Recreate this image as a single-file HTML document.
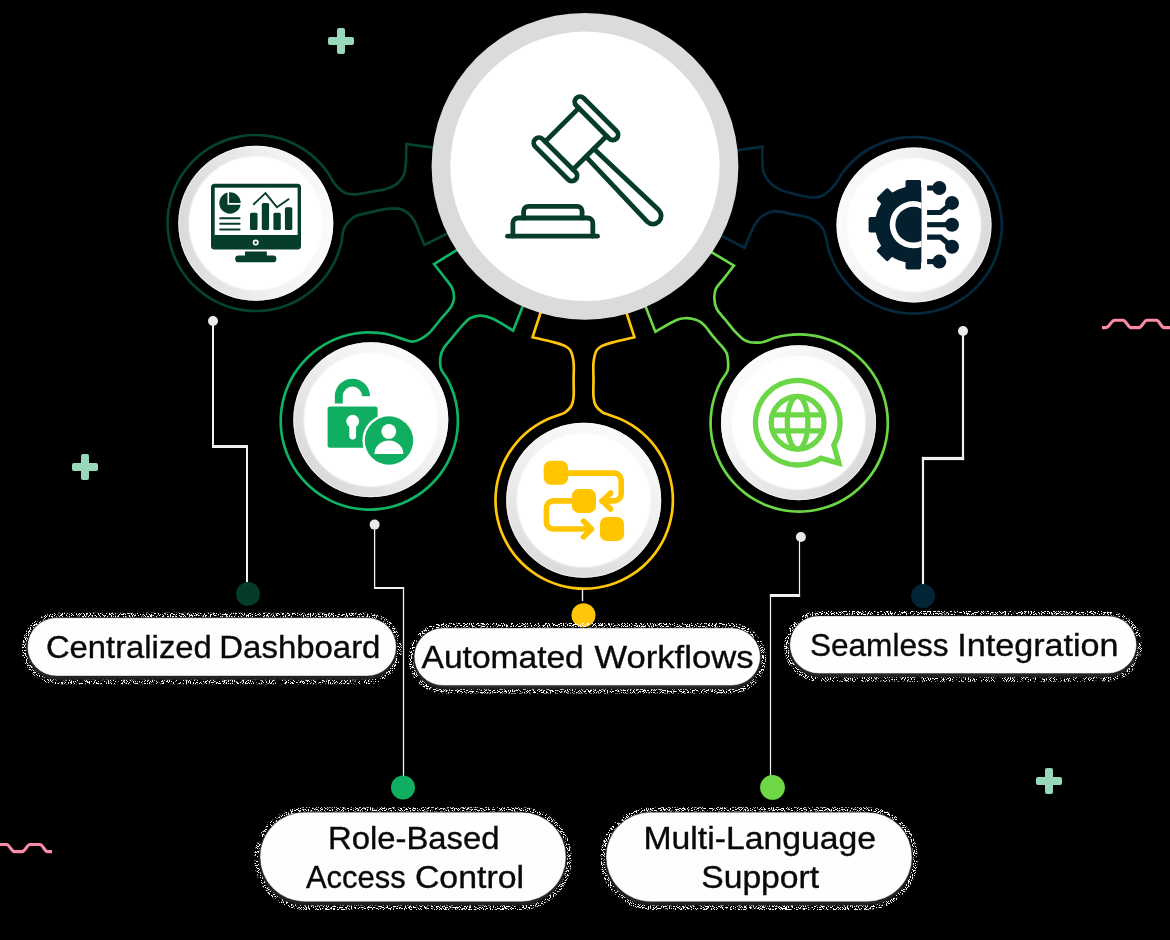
<!DOCTYPE html>
<html><head><meta charset="utf-8"><title>Features</title>
<style>html,body{margin:0;padding:0;background:#000;}body{width:1170px;height:940px;overflow:hidden;font-family:"Liberation Sans",sans-serif;}svg{display:block}</style>
</head><body>
<svg width="1170" height="940" viewBox="0 0 1170 940">
<defs>
<linearGradient id="g_dash" x1="0" y1="0.5" x2="1" y2="0.5"><stop offset="0" stop-color="#dadada"/><stop offset="0.55" stop-color="#efefef"/><stop offset="1" stop-color="#fbfbfb"/></linearGradient>
<linearGradient id="g_role" x1="0.15" y1="0.85" x2="0.85" y2="0.15"><stop offset="0" stop-color="#dadada"/><stop offset="0.55" stop-color="#efefef"/><stop offset="1" stop-color="#fbfbfb"/></linearGradient>
<linearGradient id="g_work" x1="0.3" y1="1" x2="0.7" y2="0"><stop offset="0" stop-color="#dadada"/><stop offset="0.55" stop-color="#efefef"/><stop offset="1" stop-color="#fbfbfb"/></linearGradient>
<linearGradient id="g_multi" x1="0.85" y1="0.85" x2="0.15" y2="0.15"><stop offset="0" stop-color="#dadada"/><stop offset="0.55" stop-color="#efefef"/><stop offset="1" stop-color="#fbfbfb"/></linearGradient>
<linearGradient id="g_integ" x1="1" y1="0.6" x2="0" y2="0.4"><stop offset="0" stop-color="#dadada"/><stop offset="0.55" stop-color="#efefef"/><stop offset="1" stop-color="#fbfbfb"/></linearGradient>
<radialGradient id="inner"><stop offset="0" stop-color="#fff"/><stop offset="0.965" stop-color="#fff"/><stop offset="1" stop-color="#fff" stop-opacity="0"/></radialGradient>
<clipPath id="gearclip"><rect x="850" y="170" width="71.4" height="110"/></clipPath>
<filter id="sh" x="-5%" y="-30%" width="110%" height="160%"><feGaussianBlur stdDeviation="1.300"/></filter>
<filter id="nz" x="-5%" y="-30%" width="110%" height="160%" color-interpolation-filters="sRGB"><feTurbulence type="fractalNoise" baseFrequency="0.950" numOctaves="2" seed="7" result="t"/><feColorMatrix in="t" type="matrix" values="0 0 0 0 1  0 0 0 0 1  0 0 0 0 1  0 0 0 16 -8.600" result="n"/><feComposite in="n" in2="SourceGraphic" operator="in"/></filter>
</defs>
<rect width="1170" height="940" fill="#000"/>
<g fill="#98d9bc"><rect x="337" y="28" width="8" height="26" rx="2"/><rect x="328" y="37" width="26" height="8" rx="2"/></g>
<g fill="#98d9bc"><rect x="81" y="454" width="8" height="26" rx="2"/><rect x="72" y="463" width="26" height="8" rx="2"/></g>
<g fill="#98d9bc"><rect x="1045" y="768" width="8" height="26" rx="2"/><rect x="1036" y="777" width="26" height="8" rx="2"/></g>
<path d="M1102 327.6L1106 327.6C1109.44 327.6 1111.16 320.2 1114.6 320.2L1123 320.2C1126.2 320.2 1127.8 327.6 1131 327.6L1139 327.6C1142.2 327.6 1143.8 320.2 1147 320.2L1156.5 320.2C1159.5 320.2 1161 327.6 1164 327.6L1172 327.6" stroke="#f98ba6" stroke-width="3.100" fill="none"/>
<path d="M-2 844.5L6.5 844.5C9.7 844.5 11.3 851.6 14.5 851.6L22 851.6C25.2 851.6 26.8 844.5 30 844.5L40 844.5C43 844.5 44.5 851.6 47.5 851.6L52 851.6" stroke="#f98ba6" stroke-width="3.100" fill="none"/>
<path d="M438.95 148.4L406.3 144C406.28 145.83 406.27 151.87 406.2 155C406.13 158.13 406.28 159.52 405.9 162.8C405.52 166.08 405.35 171.23 403.9 174.7C402.45 178.17 400.05 181.25 397.2 183.6C394.35 185.95 390.77 187.5 386.8 188.8C382.83 190.1 378.37 190.48 373.4 191.4C368.43 192.32 361.35 193.92 357 194.3C352.65 194.68 349.97 194.37 347.3 193.7C344.63 193.03 343.22 192.08 341 190.3C338.78 188.52 336.23 186.01 334.01 183.05C331.79 180.09 330.03 175.87 327.69 172.53C325.34 169.18 322.74 165.97 319.96 162.98C317.17 160 314.15 157.18 310.98 154.61C307.81 152.04 304.42 149.67 300.92 147.57C297.42 145.47 293.74 143.59 289.98 142C286.23 140.4 282.32 139.06 278.38 138C274.43 136.94 270.38 136.15 266.32 135.66C262.27 135.16 258.15 134.94 254.06 135.01C249.98 135.08 245.87 135.44 241.83 136.08C237.8 136.72 233.78 137.65 229.87 138.85C225.97 140.04 222.11 141.52 218.41 143.24C214.71 144.97 211.1 146.97 207.67 149.2C204.25 151.42 200.95 153.91 197.87 156.59C194.79 159.26 191.86 162.19 189.19 165.27C186.51 168.35 184.02 171.65 181.8 175.07C179.57 178.5 177.57 182.11 175.84 185.81C174.12 189.51 172.64 193.37 171.45 197.27C170.25 201.18 169.32 205.2 168.68 209.23C168.04 213.27 167.68 217.38 167.61 221.46C167.54 225.55 167.76 229.67 168.26 233.72C168.75 237.78 169.54 241.83 170.6 245.78C171.66 249.72 173 253.63 174.6 257.38C176.19 261.14 178.07 264.82 180.17 268.32C182.27 271.82 184.64 275.21 187.21 278.38C189.78 281.55 192.6 284.57 195.58 287.36C198.57 290.14 201.78 292.74 205.13 295.09C208.47 297.43 212.01 299.56 215.65 301.41C219.29 303.26 223.09 304.88 226.95 306.21C230.81 307.53 234.8 308.6 238.81 309.38C242.82 310.16 246.92 310.67 250.99 310.88C255.07 311.09 259.2 311.02 263.27 310.67C267.34 310.31 271.42 309.66 275.4 308.74C279.37 307.83 283.33 306.62 287.14 305.16C290.95 303.69 294.69 301.95 298.26 299.97C301.83 297.99 305.3 295.74 308.56 293.28C311.82 290.82 314.94 288.11 317.83 285.23C320.71 282.34 323.42 279.22 325.88 275.96C328.34 272.7 330.59 269.23 332.57 265.66C334.55 262.09 336.29 258.35 337.76 254.54C339.22 250.73 340.43 246.77 341.34 242.8C342.26 238.82 342.61 233.47 343.27 230.67C343.92 227.87 344.49 227.39 345.3 226C346.11 224.61 346.98 223.55 348.1 222.3C349.22 221.05 350.52 219.62 352 218.5C353.48 217.38 353.43 216.75 357 215.6C360.57 214.45 368.43 212.72 373.4 211.6C378.37 210.48 382.33 209.35 386.8 208.9C391.27 208.45 396.48 208.03 400.2 208.9C403.92 209.77 406.62 211.87 409.1 214.1C411.58 216.33 413.33 219.07 415.1 222.3C416.87 225.53 418.15 229.72 419.7 233.5C421.25 237.28 423.62 243.08 424.4 245L452.87 230.83" fill="none" stroke="#05432f" stroke-width="2.700" stroke-linejoin="miter"/>
<path d="M731.06 151.04L762.6 146.6C762.55 148.5 762.17 153.82 762.3 158C762.43 162.18 762.22 167.68 763.4 171.7C764.58 175.72 766.67 179.12 769.4 182.1C772.13 185.08 775.58 187.62 779.8 189.6C784.02 191.58 789.73 192.72 794.7 194C799.67 195.28 805.63 196.8 809.6 197.3C813.57 197.8 816.1 197.42 818.5 197C820.9 196.58 822.3 195.8 824 194.8C825.7 193.8 826.78 192.83 828.7 191C830.62 189.17 833.29 186.8 835.54 183.85C837.78 180.89 839.71 176.62 842.15 173.27C844.6 169.92 847.31 166.71 850.2 163.74C853.09 160.77 856.22 157.97 859.5 155.43C862.78 152.9 866.28 150.57 869.88 148.52C873.49 146.48 877.28 144.66 881.14 143.14C885 141.62 889 140.36 893.04 139.4C897.07 138.44 901.21 137.76 905.34 137.38C909.47 136.99 913.67 136.9 917.81 137.11C921.96 137.31 926.12 137.81 930.2 138.59C934.27 139.38 938.33 140.46 942.25 141.81C946.17 143.16 950.03 144.8 953.72 146.69C957.42 148.58 961.01 150.76 964.4 153.15C967.79 155.54 971.04 158.19 974.06 161.04C977.08 163.88 979.92 166.97 982.51 170.21C985.1 173.45 987.48 176.91 989.58 180.48C991.69 184.06 993.56 187.82 995.14 191.65C996.72 195.49 998.04 199.47 999.06 203.49C1000.09 207.51 1000.84 211.64 1001.28 215.76C1001.73 219.89 1001.89 224.08 1001.75 228.23C1001.61 232.37 1001.18 236.55 1000.46 240.63C999.74 244.72 998.72 248.79 997.43 252.73C996.14 256.67 994.56 260.56 992.73 264.28C990.9 268.01 988.78 271.63 986.44 275.06C984.11 278.49 981.5 281.78 978.71 284.84C975.91 287.9 972.87 290.8 969.67 293.43C966.47 296.07 963.04 298.51 959.51 300.67C955.97 302.83 952.24 304.76 948.43 306.4C944.62 308.04 940.65 309.42 936.65 310.51C932.65 311.6 928.53 312.41 924.41 312.92C920.3 313.44 916.11 313.66 911.96 313.59C907.81 313.51 903.63 313.14 899.53 312.49C895.44 311.83 891.35 310.88 887.39 309.65C883.43 308.42 879.51 306.9 875.76 305.13C872.01 303.36 868.35 301.3 864.89 299.02C861.43 296.73 858.1 294.18 854.99 291.43C851.88 288.68 848.94 285.69 846.26 282.53C843.57 279.37 841.08 275.99 838.86 272.48C836.65 268.98 834.66 265.28 832.96 261.5C831.26 257.71 829.81 253.77 828.66 249.79C827.51 245.8 826.9 240.8 826.06 237.59C825.22 234.37 824.73 232.71 823.6 230.5C822.47 228.29 821.63 226.4 819.3 224.3C816.97 222.2 814.2 219.6 809.6 217.9C805 216.2 797.42 215.22 791.7 214.1C785.98 212.98 780.27 210.82 775.3 211.2C770.33 211.58 765.37 214.05 761.9 216.4C758.43 218.75 756.57 222.03 754.5 225.3C752.43 228.57 751.15 232.25 749.5 236C747.85 239.75 745.42 245.83 744.6 247.8L716.17 233.15" fill="none" stroke="#04293d" stroke-width="2.700" stroke-linejoin="miter"/>
<path d="M462.13 246.88L434 264C435.78 266.28 441.65 273.62 444.7 277.7C447.75 281.78 450.77 284.97 452.3 288.5C453.83 292.03 454.1 295.87 453.9 298.9C453.7 301.93 453.42 303.18 451.1 306.7C448.78 310.22 443.7 315.57 440 320C436.3 324.43 432.23 330.07 428.9 333.3C425.57 336.53 422.78 338 420 339.4C417.22 340.8 415.12 341.79 412.2 341.7C409.28 341.61 406.07 339.96 402.49 338.85C398.91 337.74 394.72 336.03 390.73 335.03C386.75 334.04 382.65 333.31 378.56 332.89C374.47 332.46 370.32 332.31 366.21 332.45C362.1 332.6 357.96 333.03 353.91 333.75C349.87 334.46 345.83 335.47 341.92 336.74C338.01 338.01 334.15 339.57 330.46 341.37C326.77 343.17 323.16 345.25 319.76 347.55C316.35 349.85 313.07 352.41 310.02 355.16C306.96 357.91 304.07 360.9 301.43 364.05C298.79 367.2 296.34 370.56 294.16 374.05C291.98 377.53 290.03 381.21 288.36 384.96C286.69 388.72 285.27 392.63 284.13 396.58C283 400.53 282.13 404.6 281.56 408.67C280.99 412.74 280.7 416.89 280.7 421C280.7 425.11 280.99 429.26 281.56 433.33C282.13 437.4 283 441.47 284.13 445.42C285.27 449.37 286.69 453.28 288.36 457.04C290.03 460.79 291.98 464.47 294.16 467.95C296.34 471.44 298.79 474.8 301.43 477.95C304.07 481.1 306.96 484.09 310.02 486.84C313.07 489.59 316.35 492.15 319.76 494.45C323.16 496.75 326.77 498.83 330.46 500.63C334.15 502.43 338.01 503.99 341.92 505.26C345.83 506.53 349.87 507.54 353.91 508.25C357.96 508.97 362.1 509.4 366.21 509.55C370.32 509.69 374.47 509.54 378.56 509.11C382.65 508.69 386.75 507.96 390.73 506.97C394.72 505.97 398.68 504.69 402.49 503.15C406.3 501.61 410.04 499.78 413.6 497.73C417.16 495.67 420.61 493.35 423.85 490.82C427.09 488.29 430.18 485.5 433.03 482.55C435.89 479.59 438.56 476.4 440.98 473.08C443.39 469.75 445.6 466.22 447.53 462.6C449.46 458.97 451.15 455.17 452.56 451.3C453.96 447.44 455.11 443.44 455.96 439.42C456.82 435.4 457.4 431.28 457.68 427.18C457.97 423.08 457.97 418.92 457.68 414.82C457.4 410.72 456.82 406.6 455.96 402.58C455.11 398.56 453.96 394.56 452.56 390.7C451.15 386.83 449.46 383.03 447.53 379.4C445.6 375.78 442.17 372.57 440.98 368.92C439.79 365.27 440.01 360.84 440.4 357.5C440.79 354.16 441.52 352 443.3 348.9C445.08 345.8 447.95 342.78 451.1 338.9C454.25 335.02 459.05 329.03 462.2 325.6C465.35 322.17 466.97 319.97 470 318.3C473.03 316.63 476.68 315.55 480.4 315.6C484.12 315.65 486.83 316.12 492.3 318.6C497.77 321.08 509.72 328.52 513.2 330.5L525 300.62" fill="none" stroke="#10b263" stroke-width="2.700" stroke-linejoin="miter"/>
<path d="M706.06 248.9L733.9 265.7C732.05 268.07 725.82 276.02 722.8 279.9C719.78 283.78 717.2 285.83 715.8 289C714.4 292.17 714.25 295.58 714.4 298.9C714.55 302.22 714.83 305.38 716.7 308.9C718.57 312.42 722.45 316.12 725.6 320C728.75 323.88 732.65 328.97 735.6 332.2C738.55 335.43 740.9 337.73 743.3 339.4C745.7 341.07 747.72 341.67 750 342.2C752.28 342.73 754.81 342.62 757 342.6C759.19 342.58 760.19 342.86 763.16 342.06C766.14 341.26 770.88 338.95 774.85 337.81C778.83 336.68 782.92 335.81 787.02 335.24C791.11 334.67 795.29 334.39 799.43 334.4C803.56 334.41 807.74 334.72 811.83 335.3C815.92 335.89 820.01 336.78 823.98 337.94C827.95 339.09 831.88 340.54 835.65 342.25C839.42 343.95 843.1 345.93 846.6 348.14C850.09 350.36 853.46 352.84 856.61 355.52C859.76 358.2 862.75 361.13 865.49 364.22C868.24 367.32 870.79 370.63 873.07 374.08C875.35 377.53 877.42 381.17 879.19 384.91C880.97 388.64 882.5 392.54 883.74 396.48C884.98 400.43 885.95 404.5 886.62 408.58C887.29 412.66 887.68 416.83 887.78 420.96C887.87 425.1 887.67 429.28 887.19 433.39C886.7 437.49 885.92 441.61 884.87 445.6C883.81 449.6 882.46 453.56 880.86 457.38C879.26 461.19 877.36 464.92 875.24 468.47C873.12 472.02 870.72 475.45 868.13 478.67C865.53 481.89 862.68 484.95 859.65 487.77C856.63 490.59 853.38 493.23 849.99 495.6C846.6 497.97 843.01 500.12 839.32 501.99C835.64 503.87 831.78 505.5 827.87 506.83C823.95 508.17 819.91 509.25 815.85 510.02C811.78 510.8 807.63 511.3 803.5 511.5C799.37 511.7 795.18 511.61 791.06 511.23C786.95 510.85 782.82 510.17 778.79 509.22C774.77 508.27 770.77 507.02 766.92 505.51C763.07 504 759.29 502.21 755.69 500.18C752.08 498.15 748.59 495.84 745.31 493.33C742.03 490.81 738.89 488.04 735.99 485.09C733.1 482.14 730.38 478.95 727.92 475.63C725.47 472.3 723.22 468.76 721.26 465.13C719.29 461.49 717.56 457.68 716.13 453.8C714.69 449.92 713.51 445.9 712.63 441.86C711.75 437.82 711.15 433.68 710.84 429.56C710.54 425.43 710.52 421.25 710.8 417.12C711.07 412.99 711.64 408.85 712.49 404.8C713.34 400.75 714.48 396.73 715.89 392.84C717.3 388.95 719 385.12 720.94 381.47C722.87 377.82 726.34 374.25 727.52 370.92C728.7 367.59 728.14 364.44 728 361.5C727.86 358.56 727.67 355.77 726.7 353.3C725.73 350.83 724.43 349.47 722.2 346.7C719.97 343.93 716.07 340.03 713.3 336.7C710.53 333.37 707.82 329.2 705.6 326.7C703.38 324.2 702.1 322.98 700 321.7C697.9 320.42 695.42 319.58 693 319C690.58 318.42 688.23 318.02 685.5 318.2C682.77 318.38 681.63 317.85 676.6 320.1C671.57 322.35 658.85 329.77 655.3 331.7L643.65 301.4" fill="none" stroke="#6cd746" stroke-width="2.700" stroke-linejoin="miter"/>
<path d="M542.45 306.79L532.6 337.2C536.2 338.07 548.8 340.93 554.2 342.4C559.6 343.87 562.28 344.63 565 346C567.72 347.37 569.07 347.83 570.5 350.6C571.93 353.37 573.08 357.7 573.6 362.6C574.12 367.5 573.6 374.3 573.6 380C573.6 385.7 573.98 392.47 573.6 396.8C573.22 401.13 572.7 403.42 571.3 406C569.9 408.58 567.37 410.77 565.2 412.3C563.03 413.83 561.39 413.94 558.27 415.18C555.15 416.41 550.29 417.93 546.49 419.72C542.69 421.5 538.98 423.58 535.47 425.89C531.96 428.19 528.58 430.77 525.44 433.55C522.3 436.34 519.32 439.37 516.6 442.57C513.88 445.77 511.37 449.2 509.13 452.75C506.9 456.3 504.89 460.05 503.18 463.89C501.48 467.72 500.03 471.72 498.88 475.76C497.73 479.79 496.86 483.96 496.3 488.12C495.74 492.28 495.47 496.52 495.5 500.72C495.54 504.91 495.87 509.15 496.5 513.3C497.13 517.45 498.07 521.6 499.28 525.62C500.49 529.64 502.01 533.61 503.78 537.42C505.55 541.22 507.61 544.94 509.9 548.46C512.2 551.97 514.77 555.36 517.54 558.51C520.31 561.67 523.33 564.66 526.52 567.39C529.71 570.11 533.13 572.64 536.67 574.89C540.22 577.14 543.96 579.16 547.79 580.88C551.61 582.6 555.61 584.07 559.64 585.23C563.67 586.39 567.83 587.28 571.99 587.86C576.15 588.43 580.39 588.72 584.59 588.7C588.78 588.68 593.02 588.36 597.18 587.75C601.33 587.13 605.48 586.21 609.5 585.01C613.53 583.82 617.5 582.32 621.32 580.56C625.13 578.8 628.85 576.75 632.38 574.47C635.9 572.19 639.3 569.64 642.47 566.88C645.63 564.12 648.63 561.11 651.37 557.93C654.11 554.75 656.65 551.34 658.92 547.81C661.18 544.27 663.21 540.53 664.95 536.71C666.68 532.89 668.16 528.91 669.34 524.88C670.52 520.85 671.42 516.69 672.01 512.54C672.6 508.38 672.9 504.14 672.9 499.94C672.9 495.74 672.59 491.5 671.99 487.35C671.39 483.19 670.49 479.04 669.31 475.01C668.12 470.98 666.64 467 664.9 463.18C663.15 459.36 661.12 455.63 658.85 452.1C656.59 448.56 654.04 445.16 651.29 441.98C648.55 438.81 645.55 435.8 642.38 433.04C639.21 430.29 635.81 427.74 632.28 425.46C628.75 423.19 625.03 421.14 621.21 419.39C617.4 417.64 612.49 416.13 609.39 414.95C606.29 413.77 604.83 413.79 602.6 412.3C600.37 410.81 597.52 408.58 596 406C594.48 403.42 593.92 401.13 593.5 396.8C593.08 392.47 593.5 385.7 593.5 380C593.5 374.3 593 367.5 593.5 362.6C594 357.7 595.08 353.37 596.5 350.6C597.92 347.83 599.28 347.37 602 346C604.72 344.63 607.4 343.87 612.8 342.4C618.2 340.93 630.8 338.07 634.4 337.2L624.55 306.79" fill="none" stroke="#ffc60a" stroke-width="2.700" stroke-linejoin="miter"/>
<circle cx="585" cy="166.3" r="153.4" fill="#dbdbdb"/>
<circle cx="585" cy="166.3" r="134.7" fill="#fff"/>
<circle cx="255.8" cy="223.3" r="77.5" fill="url(#g_dash)"/>
<circle cx="255.8" cy="223.3" r="77" fill="none" stroke="#f6f6f6" stroke-width="0.900" opacity="0.800"/>
<circle cx="255.8" cy="223.3" r="68.200" fill="url(#inner)"/>
<circle cx="370.8" cy="419.7" r="77.5" fill="url(#g_role)"/>
<circle cx="370.8" cy="419.7" r="77" fill="none" stroke="#f6f6f6" stroke-width="0.900" opacity="0.800"/>
<circle cx="370.8" cy="419.7" r="68.200" fill="url(#inner)"/>
<circle cx="583.7" cy="500.3" r="77.5" fill="url(#g_work)"/>
<circle cx="583.7" cy="500.3" r="77" fill="none" stroke="#f6f6f6" stroke-width="0.900" opacity="0.800"/>
<circle cx="583.7" cy="500.3" r="68.200" fill="url(#inner)"/>
<circle cx="798.5" cy="422.7" r="77.5" fill="url(#g_multi)"/>
<circle cx="798.5" cy="422.7" r="77" fill="none" stroke="#f6f6f6" stroke-width="0.900" opacity="0.800"/>
<circle cx="798.5" cy="422.7" r="68.200" fill="url(#inner)"/>
<circle cx="914" cy="225" r="77.5" fill="url(#g_integ)"/>
<circle cx="914" cy="225" r="77" fill="none" stroke="#f6f6f6" stroke-width="0.900" opacity="0.800"/>
<circle cx="914" cy="225" r="68.200" fill="url(#inner)"/>
<rect x="212" y="321" width="2" height="127" fill="#f1f1f0"/>
<rect x="212" y="445" width="36" height="3" fill="#f1f1f0"/>
<rect x="246" y="445" width="2" height="145" fill="#f1f1f0"/>
<circle cx="213" cy="321" r="5" fill="#e9e9e7"/>
<circle cx="248" cy="593.9" r="12" fill="#043b29"/>
<rect x="373.95" y="524.6" width="1.3" height="64.4" fill="#f1f1f0"/>
<rect x="373.95" y="587" width="30.2" height="2" fill="#f1f1f0"/>
<rect x="402.85" y="587" width="1.3" height="193" fill="#f1f1f0"/>
<circle cx="374.6" cy="524.6" r="5" fill="#e9e9e7"/>
<circle cx="403" cy="787.5" r="12" fill="#10ae60"/>
<rect x="581.8" y="589" width="1.4" height="12" fill="#f1f1f0"/>
<circle cx="583.5" cy="615.2" r="12" fill="#ffc60a"/>
<rect x="798.9" y="537" width="1.2" height="60" fill="#f1f1f0"/>
<rect x="769.9" y="594" width="30.2" height="3" fill="#f1f1f0"/>
<rect x="769.9" y="594" width="1.2" height="186" fill="#f1f1f0"/>
<circle cx="800.9" cy="537" r="5" fill="#e9e9e7"/>
<circle cx="772.5" cy="787.4" r="12.4" fill="#6ed945"/>
<rect x="961.9" y="331" width="2.2" height="129.1" fill="#f1f1f0"/>
<rect x="921.9" y="456.9" width="42.2" height="3.2" fill="#f1f1f0"/>
<rect x="921.9" y="456.9" width="2.2" height="133.1" fill="#f1f1f0"/>
<circle cx="963" cy="331" r="5" fill="#e9e9e7"/>
<circle cx="923.1" cy="595.9" r="12" fill="#022535"/>
<!-- gavel -->
<g fill="none" stroke="#063c2a" stroke-width="4.800" stroke-linecap="round" stroke-linejoin="round">
<g transform="translate(575.9 138.8) rotate(45)">
<rect x="-28.500" y="-34.250" width="57" height="10.500" rx="5.250"/>
<rect x="-28.500" y="23.750" width="57" height="10.500" rx="5.250"/>
<path d="M-19.700 -23.750V23.750M19.700 -23.750V23.750"/>
<path d="M19.700 -5.600L109 -8.200A8.200 8.200 0 0 1 109 8.200L19.700 5.600"/>
</g>
<path d="M507.500 236.200H597.500"/>
<path d="M512.900 236V223a5 5 0 0 1 5 -5H587.800a5 5 0 0 1 5 5V236"/>
<path d="M523.600 218V211.300a5 5 0 0 1 5 -5H577.100a5 5 0 0 1 5 5V218"/>
</g>

<!-- dashboard monitor -->
<g fill="#063d2b">
<rect x="211" y="183.800" width="90" height="65.700" rx="3.500"/>
<rect x="214.700" y="187.700" width="82.900" height="47.300" fill="#fff"/>
<circle cx="255.700" cy="242.600" r="3" fill="#fff"/>
<circle cx="255.700" cy="242.600" r="1.300"/>
<rect x="245" y="251.500" width="21.800" height="5"/>
<rect x="235.200" y="255.600" width="41.200" height="6.700" rx="3.350"/>
<circle cx="230" cy="203" r="10.700"/>
<path d="M228.300 191V203.900H242" fill="none" stroke="#fff" stroke-width="1.600"/>
<path d="M220.200 218.200H239.600M220.200 223.800H239.600M220.200 229.400H239.600" stroke="#063d2b" stroke-width="2" stroke-linecap="round" fill="none"/>
<rect x="250" y="212.800" width="7.500" height="17.200" rx="1.500"/>
<rect x="261.800" y="203" width="7.300" height="27" rx="1.500"/>
<rect x="273.400" y="212.800" width="7.400" height="17.200" rx="1.500"/>
<rect x="284.900" y="207.300" width="7.400" height="22.700" rx="1.500"/>
<path d="M253.200 204.800L265.500 193.100L276.900 207.200L289.200 198.700" fill="none" stroke="#063d2b" stroke-width="1.900"/>
</g>

<!-- integration gear -->
<g fill="#04202f">
<g clip-path="url(#gearclip)">
<circle cx="913.300" cy="224.700" r="38.500"/>
<g id="tooth"><rect x="905.500" y="180" width="15.600" height="12" rx="1.800"/></g>
<rect x="905.500" y="180" width="15.600" height="12" rx="1.800" transform="rotate(-45 913.300 224.700)"/>
<rect x="905.500" y="180" width="15.600" height="12" rx="1.800" transform="rotate(-90 913.300 224.700)"/>
<rect x="905.500" y="180" width="15.600" height="12" rx="1.800" transform="rotate(-135 913.300 224.700)"/>
<rect x="905.500" y="180" width="15.600" height="12" rx="1.800" transform="rotate(180 913.300 224.700)"/>
<circle cx="913.300" cy="224.700" r="23.600" fill="#fff"/>
<circle cx="913.300" cy="224.700" r="17.900"/>
</g>
<g stroke="#04202f" stroke-width="5.100" fill="none">
<path d="M927.100 188H939"/>
<path d="M927.100 212.500H940.500L952 202.900"/>
<path d="M927.100 224.700H952"/>
<path d="M927.100 237.100H940.500L952 246.700"/>
<path d="M927.100 261.600H939"/>
</g>
<circle cx="939.300" cy="188" r="7"/>
<circle cx="952" cy="202.900" r="7"/>
<circle cx="952" cy="224.700" r="7"/>
<circle cx="952" cy="246.700" r="7"/>
<circle cx="939.300" cy="261.600" r="7"/>
</g>

<!-- role lock -->
<g fill="#10ae60">
<rect x="327.600" y="406.500" width="50" height="41.200" rx="2.500"/>
<path d="M338.800 403.600V396.200A13.600 13.600 0 0 1 366 396.200" fill="none" stroke="#10ae60" stroke-width="7.900"/>
<circle cx="352.700" cy="421.200" r="6.400" fill="#fff"/>
<path d="M352.700 421.200V436" stroke="#fff" stroke-width="6.800" stroke-linecap="round" fill="none"/>
<circle cx="389" cy="440.500" r="26.600" fill="#fff"/>
<circle cx="389" cy="440.500" r="24.200"/>
<circle cx="388.800" cy="431.400" r="7.400" fill="#fff"/>
<path d="M374.400 453.900A14.500 13.400 0 0 1 403.400 453.900z" fill="#fff"/>
</g>

<!-- workflow -->
<g fill="#ffc600">
<rect x="543.700" y="460.800" width="24.400" height="24" rx="7"/>
<rect x="571.800" y="488.900" width="24.200" height="24" rx="7"/>
<rect x="599.900" y="517" width="24.200" height="24" rx="7"/>
<g fill="none" stroke="#ffc600" stroke-width="5.600" stroke-linecap="round" stroke-linejoin="round">
<path d="M566 473.100H614.200A7 7 0 0 1 621.200 480.100V493.900A7 7 0 0 1 614.200 500.900H602"/>
<path d="M610.600 493L602.500 500.900L610.600 509"/>
<path d="M574 500.900H553.400A7 7 0 0 0 546.400 507.900V522A7 7 0 0 0 553.400 529H590"/>
<path d="M583.500 521.100L591.500 529L583.500 536.900"/>
</g>
</g>

<!-- multi-language globe bubble -->
<g fill="none" stroke="#6cd746" stroke-width="5.300">
<path d="M833.800 444.800A42.300 42.300 0 1 0 820.700 458.200L838.900 463.300Z" stroke-linejoin="miter"/>
<circle cx="797.600" cy="422.700" r="26.400"/>
<ellipse cx="797.600" cy="422.700" rx="10.300" ry="26.400"/>
<path d="M772 414.900H823M772 430.900H823"/>
</g>

<g font-family="'Liberation Sans', sans-serif" fill="#0a0a0a" stroke="#0a0a0a" stroke-width="0.350" opacity="0.999">
<rect x="26" y="618.3" width="371.7" height="61.7" rx="30.85" fill="#272727" filter="url(#sh)"/>
<rect x="24" y="615" width="375.7" height="67" rx="33.5" fill="none" stroke="#fff" stroke-width="4.400" filter="url(#nz)"/>
<rect x="27.5" y="617.8" width="368.7" height="58.2" rx="29.1" fill="#fff"/>
<rect x="412.7" y="628.5" width="349.1" height="60.9" rx="30.45" fill="#272727" filter="url(#sh)"/>
<rect x="410.7" y="625.2" width="353.1" height="66.2" rx="33.1" fill="none" stroke="#fff" stroke-width="4.400" filter="url(#nz)"/>
<rect x="414.2" y="628" width="346.1" height="57.4" rx="28.7" fill="#fff"/>
<rect x="788.3" y="616.4" width="349.7" height="61.1" rx="30.55" fill="#272727" filter="url(#sh)"/>
<rect x="786.3" y="613.1" width="353.7" height="66.4" rx="33.2" fill="none" stroke="#fff" stroke-width="4.400" filter="url(#nz)"/>
<rect x="789.8" y="615.9" width="346.7" height="57.6" rx="28.8" fill="#fff"/>
<rect x="258.5" y="812.7" width="309" height="93" rx="46.5" fill="#272727" filter="url(#sh)"/>
<rect x="256.5" y="809.4" width="313" height="98.3" rx="49.15" fill="none" stroke="#fff" stroke-width="4.400" filter="url(#nz)"/>
<rect x="260" y="812.2" width="306" height="89.5" rx="44.75" fill="#fff"/>
<rect x="604.5" y="812.7" width="309" height="93" rx="46.5" fill="#272727" filter="url(#sh)"/>
<rect x="602.5" y="809.4" width="313" height="98.3" rx="49.15" fill="none" stroke="#fff" stroke-width="4.400" filter="url(#nz)"/>
<rect x="606" y="812.2" width="306" height="89.5" rx="44.75" fill="#fff"/>
<text x="45.96" y="658" font-size="30.5" textLength="165.78" lengthAdjust="spacingAndGlyphs">Centralized</text>
<text x="219.33" y="658" font-size="30.5" textLength="161.12" lengthAdjust="spacingAndGlyphs">Dashboard</text>
<text x="421.6" y="668" font-size="30.5" textLength="162.18" lengthAdjust="spacingAndGlyphs">Automated</text>
<text x="594.5" y="668" font-size="30.5" textLength="158.98" lengthAdjust="spacingAndGlyphs">Workflows</text>
<text x="809.91" y="656" font-size="30.5" textLength="138.67" lengthAdjust="spacingAndGlyphs">Seamless</text>
<text x="957.23" y="656" font-size="30.5" textLength="161.39" lengthAdjust="spacingAndGlyphs">Integration</text>
<text x="328.04" y="848.8" font-size="30.5" textLength="171.51" lengthAdjust="spacingAndGlyphs">Role-Based</text>
<text x="306" y="888.3" font-size="30.5" textLength="99.67" lengthAdjust="spacingAndGlyphs">Access</text>
<text x="414.91" y="888.3" font-size="30.5" textLength="109.12" lengthAdjust="spacingAndGlyphs">Control</text>
<text x="643.46" y="848.8" font-size="30.5" textLength="232.6" lengthAdjust="spacingAndGlyphs">Multi-Language</text>
<text x="701.25" y="888.3" font-size="30.5" textLength="117.84" lengthAdjust="spacingAndGlyphs">Support</text>
</g>
</svg>
</body></html>
